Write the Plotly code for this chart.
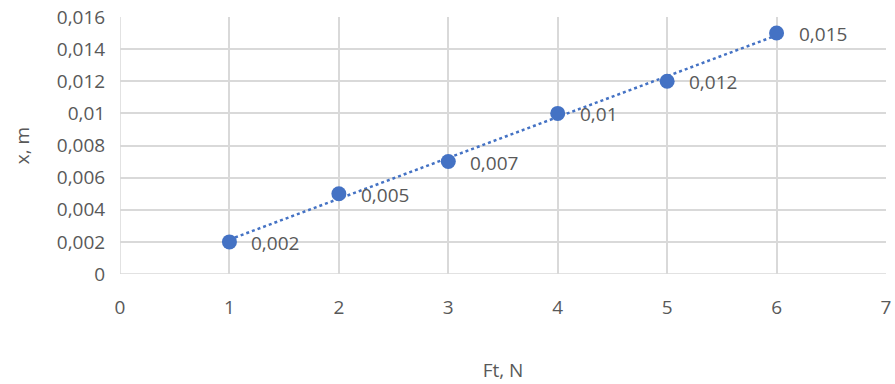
import numpy as np
import plotly.graph_objects as go

force = [1, 2, 3, 4, 5, 6]
displacement = [0.002, 0.005, 0.007, 0.01, 0.012, 0.015]
y_ticks = [0, 0.002, 0.004, 0.006, 0.008, 0.01, 0.012, 0.014, 0.016]
x_ticks = [0, 1, 2, 3, 4, 5, 6, 7]

def fmt(v):
    s = ("%.3f" % v).rstrip("0").rstrip(".")
    return s.replace(".", ",")

blue = "#4472C4"
grid = "#D9D9D9"
txt = "#595959"
font_family = "Open Sans, Noto Sans, sans-serif"
fs = 19

# linear trendline (least squares fit of the data)
k, b = np.polyfit(force, displacement, 1)
tx = [force[0], force[-1]]
ty = [k * v + b for v in tx]

fig = go.Figure()
fig.add_trace(go.Scatter(x=tx, y=ty, mode="lines",
                         line=dict(color=blue, width=2.5, dash="dot"),
                         hoverinfo="skip", showlegend=False))
fig.add_trace(go.Scatter(x=force, y=displacement, mode="markers",
                         marker=dict(color=blue, size=15),
                         showlegend=False))

for xv, yv in zip(force, displacement):
    fig.add_annotation(x=xv, y=yv, text=fmt(yv), showarrow=False,
                       xanchor="left", yanchor="middle", xshift=20, yshift=-1,
                       font=dict(size=fs, color=txt, family=font_family))

fig.update_layout(
    width=895, height=384,
    margin=dict(l=120, r=9, t=17, b=110),
    paper_bgcolor="white", plot_bgcolor="white",
    font=dict(family=font_family, size=fs, color=txt),
    xaxis=dict(range=[0, 7], tickvals=x_ticks, ticktext=[str(v) for v in x_ticks],
               automargin=False,
               showgrid=True, gridcolor=grid, gridwidth=1.5,
               zeroline=False, showline=False,
               ticks="outside", ticklen=16, tickcolor="rgba(0,0,0,0)",
               title=dict(text="Ft, N", standoff=44, font=dict(size=fs, color=txt))),
    yaxis=dict(range=[0, 0.016], tickvals=y_ticks, ticktext=[fmt(v) for v in y_ticks],
               automargin=False,
               showgrid=True, gridcolor=grid, gridwidth=1.5,
               zeroline=False, showline=False,
               ticks="outside", ticklen=10, tickcolor="rgba(0,0,0,0)",
               title=dict(text="x, m", standoff=22, font=dict(size=fs, color=txt))),
)
fig.add_shape(type="line", xref="x", yref="paper", x0=0, x1=0, y0=0, y1=1,
              line=dict(color=grid, width=1.5), layer="below")
fig.add_shape(type="line", xref="paper", yref="y", x0=0, x1=1, y0=0, y1=0,
              line=dict(color=grid, width=1.5), layer="below")

fig.write_html("out.html")
